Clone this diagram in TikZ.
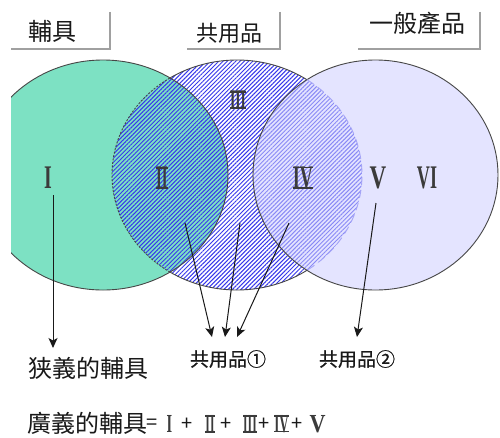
\documentclass[tikz,border=0pt]{standalone}
\usepackage{fontspec}
\usepackage{graphicx}
\newfontfamily\cjk{Noto Sans CJK TC}
\newfontfamily\cjkb[FakeBold=0.8]{Noto Sans CJK TC}
\newfontfamily\numfont{Liberation Serif}
\usetikzlibrary{patterns.meta,arrows.meta}
\definecolor{mint}{RGB}{125,225,195}
\definecolor{lav}{RGB}{206,206,255}
\definecolor{stripe}{RGB}{55,55,235}
\definecolor{edge}{RGB}{70,70,70}
\definecolor{btnshadow}{RGB}{160,160,160}
\definecolor{ink}{RGB}{25,25,25}
\newcommand\rnbar[1]{\setbox0=\hbox{#1}\hbox{\rlap{\rule{\wd0}{1.4pt}}\rlap{\raise\dimexpr\ht0-1.4pt\relax\hbox{\rule{\wd0}{1.4pt}}}\box0}}
\newcommand\RN[2][0.55]{\scalebox{#1}[1]{\numfont\bfseries #2}}
\tikzset{
  cjklbl/.style={inner sep=0pt, text=ink, font=\cjk\fontsize{#1}{#1}\selectfont},
  cjkbold/.style={inner sep=0pt, text=ink, font=\cjkb\fontsize{#1}{#1}\selectfont},
  rnlbl/.style={inner sep=0pt, text=ink!85, font=\fontsize{#1}{#1}\selectfont},
  btnbox/.style={inner sep=0pt, draw=none},
  btnedge/.style={btnshadow, line width=1.6pt},
  ring/.style={edge, line width=0.9pt},
  arr/.style={ink, line width=1pt, -{Stealth[length=10pt,width=9pt,inset=2.5pt]}},
}
\begin{document}
\begin{tikzpicture}[x=1pt,y=-1pt]
\fill[white] (0,0) rectangle (500,437);
\useasboundingbox (0,0) rectangle (500,437);

\coordinate (G) at (103,175);
\coordinate (M) at (237,175);
\coordinate (R) at (375.5,175);

% fills
\begin{scope}
  \clip (11,0) rectangle (500,437);
  \fill[mint] (G) ellipse [x radius=125, y radius=115];
\end{scope}
\fill[pattern={Lines[angle=45,distance=3pt,line width=1pt]}, pattern color=stripe]
  (M) ellipse [x radius=125, y radius=115];
\fill[lav, opacity=0.55] (R) ellipse [x radius=122.5, y radius=115];

% outlines
\begin{scope}
  \clip (11,0) rectangle (500,437);
  \draw[ring] (G) ellipse [x radius=125, y radius=115];
\end{scope}
\draw[ring] (R) ellipse [x radius=122.5, y radius=115];
\draw[ring] (M) ++(56:125 and 115) arc[start angle=56, end angle=122.4, x radius=125, y radius=115];
\draw[ring] (M) ++(-122.4:125 and 115) arc[start angle=-122.4, end angle=-56, x radius=125, y radius=115];
\draw[edge, line width=0.9pt, dash pattern=on 2pt off 1.5pt] (M) ++(122.4:125 and 115) arc[start angle=122.4, end angle=237.6, x radius=125, y radius=115];
\draw[stripe!45, line width=0.9pt, dash pattern=on 8pt off 5pt] (M) ++(-56:125 and 115) arc[start angle=-56, end angle=56, x radius=125, y radius=115];

% buttons
\node[btnbox, minimum width=99pt, minimum height=37pt] (b1) at (60.5,30.5) {};
\node[btnbox, minimum width=93pt, minimum height=37pt] (b2) at (233.5,30.5) {};
\node[btnbox, minimum width=122pt, minimum height=37pt] (b3) at (419,30.5) {};
\foreach \b in {b1,b2,b3}{
  \draw[btnedge] (\b.north east) -- (\b.south east) -- (\b.south west);
}
\node[cjklbl=24] (t1) at (52,31) {輔具};
\node[cjklbl=22] (t2) at (229,33) {共用品};
\node[cjklbl=24] (t3) at (417,23) {一般產品};

% region numerals
\node[rnlbl=33] (r1) at (48,178) {\RN[0.6]{I}};
\node[rnlbl=33] (r2) at (162,178) {\RN[0.45]{\rnbar{II}}};
\node[rnlbl=27] (r3) at (238,100) {\RN[0.5]{\rnbar{III}}};
\node[rnlbl=33] (r4) at (303,178) {\RN[0.55]{\rnbar{IV}}};
\node[rnlbl=33] (r5) at (378,178) {\RN[0.7]{V}};
\node[rnlbl=33] (r6) at (427,178) {\RN[0.55]{VI}};

% lower labels
\node[cjklbl=24] (narrow) at (88,368) {狭義的輔具};
\node[cjkbold=19] (shared1) at (228,359) {共用品①};
\node[cjkbold=19] (shared2) at (357,359) {共用品②};

% arrows
\coordinate (a1s) at (53,195);  \coordinate (a1e) at (53,348);
\coordinate (a2s) at (185,223); \coordinate (a2e) at (212,337);
\coordinate (a3s) at (240,223); \coordinate (a3e) at (225,337);
\coordinate (a4s) at (289,223); \coordinate (a4e) at (237,337);
\coordinate (a5s) at (376,203); \coordinate (a5e) at (357,337);
\draw[arr] (a1s) -- (a1e);
\draw[arr] (a2s) -- (a2e);
\draw[arr] (a3s) -- (a3e);
\draw[arr] (a4s) -- (a4e);
\draw[arr] (a5s) -- (a5e);

% formula
\node[cjklbl=24, anchor=west] (f0) at (27,423) {廣義的輔具};
\node[cjklbl=20] (f1) at (152,424) {=};
\node[rnlbl=26] (f2) at (169.5,424) {\RN[0.55]{I}};
\node[cjklbl=20] (f3) at (187,424) {+};
\node[rnlbl=26] (f4) at (210,424) {\RN[0.45]{\rnbar{II}}};
\node[cjklbl=20] (f5) at (226,424) {+};
\node[rnlbl=26] (f6) at (250,424) {\RN[0.45]{\rnbar{III}}};
\node[cjklbl=20] (f7) at (264,424) {+};
\node[rnlbl=26] (f8) at (281.5,424) {\RN[0.5]{\rnbar{IV}}};
\node[cjklbl=20] (f9) at (297.5,424) {+};
\node[rnlbl=26] (f10) at (317.5,424) {\RN[0.85]{V}};
\end{tikzpicture}
\end{document}
